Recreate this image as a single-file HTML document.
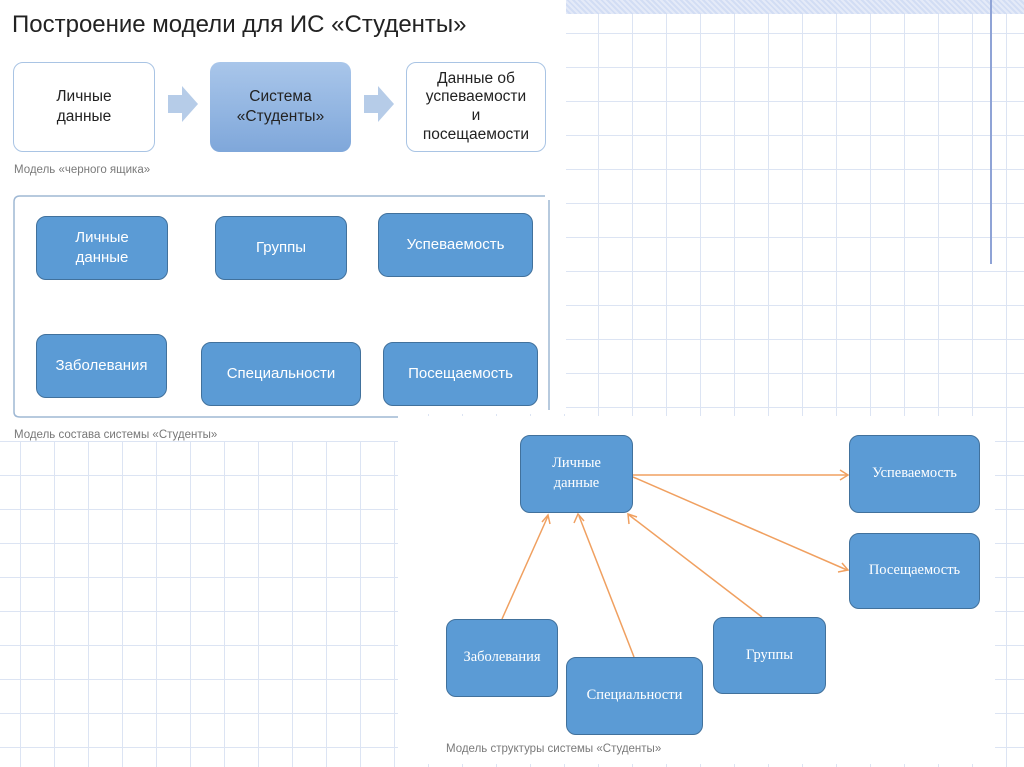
<!DOCTYPE html>
<html><head><meta charset="utf-8"><style>
body{margin:0;width:1024px;height:767px;position:relative;overflow:hidden;background:#fff;font-family:"Liberation Sans","Noto Sans CJK SC",sans-serif;}
.grid{position:absolute;background-color:#fff;background-image:repeating-linear-gradient(to right,transparent 0 33px,#dce4f3 33px 34px),repeating-linear-gradient(to bottom,transparent 0 33px,#dce4f3 33px 34px);}
.p{position:absolute;background:#fff;}
.b{position:absolute;box-sizing:border-box;display:flex;align-items:center;justify-content:center;text-align:center;border-radius:10px;}
.blue{background:#5b9bd5;border:1.5px solid #41719c;color:#fff;font-size:15px;line-height:1.35;}
.ser{font-family:"Liberation Serif",serif;font-size:14.5px;}
.cap{position:absolute;font-size:11.5px;color:#7a7a7a;}
</style></head><body>
<div class="grid" style="left:0;top:0;width:1024px;height:767px;background-position:-13px 0px"></div>
<div class="p" style="left:0;top:0;width:566px;height:414px"></div>
<div class="p" style="left:0;top:414px;width:398px;height:27px"></div>
<div class="p" style="left:398px;top:416px;width:597px;height:348px"></div>
<div style="position:absolute;left:566px;top:0;width:458px;height:14px;background:repeating-linear-gradient(45deg,#e4eaf8 0 2px,#d2ddf4 2px 4px)"></div>
<div style="position:absolute;left:990px;top:0;width:2px;height:264px;background:#8fa3d6"></div>

<div style="position:absolute;left:12px;top:11px;font-size:24px;color:#222">Построение модели для ИС «Студенты»</div>
<div class="b" style="left:13px;top:62px;width:142px;height:90px;border:1.5px solid #a9c4e4;font-size:15.5px;color:#222;line-height:1.3">Личные<br>данные</div>
<div class="b" style="left:210px;top:62px;width:141px;height:90px;background:linear-gradient(#a9c6ea,#7fa7da);font-size:15.5px;color:#222;line-height:1.3">Система<br>«Студенты»</div>
<div class="b" style="left:406px;top:62px;width:140px;height:90px;border:1.5px solid #a9c4e4;font-size:15.5px;color:#222;line-height:1.2">Данные об<br>успеваемости<br>и<br>посещаемости</div>
<svg style="position:absolute;left:0;top:0" width="1024" height="767">
<polygon points="168,95 182,95 182,86 198,104 182,122 182,113 168,113" fill="#b6cce8"/>
<polygon points="364,95 378,95 378,86 394,104 378,122 378,113 364,113" fill="#b6cce8"/>
<path d="M14,202 Q14,196 20,196 L545,196 M549,200 L549,410 M14,202 L14,412 Q14,417 20,417 L398,417" stroke="#9fb8d4" stroke-width="1.5" fill="none"/>
<g stroke="#f0a060" stroke-width="1.5" fill="none">
<line x1="633" y1="475" x2="847" y2="475"/>
<line x1="633" y1="477" x2="847" y2="570"/>
<line x1="502" y1="619" x2="548" y2="516"/>
<line x1="634" y1="657" x2="579" y2="516"/>
<line x1="762" y1="617" x2="629" y2="515"/>
<path d="M840,470 L848,475 L840,480"/>
<path d="M838,572 L848,570 L842,563"/>
<path d="M542,522 L548,515 L550,524"/>
<path d="M574,523 L578,514 L584,521"/>
<path d="M629,524 L628,514 L637,517"/>
</g>
</svg>
<div class="cap" style="left:14px;top:164px">Модель «черного ящика»</div>

<div class="b blue" style="left:36px;top:216px;width:132px;height:64px">Личные<br>данные</div>
<div class="b blue" style="left:215px;top:216px;width:132px;height:64px">Группы</div>
<div class="b blue" style="left:378px;top:213px;width:155px;height:64px">Успеваемость</div>
<div class="b blue" style="left:36px;top:334px;width:131px;height:64px">Заболевания</div>
<div class="b blue" style="left:201px;top:342px;width:160px;height:64px">Специальности</div>
<div class="b blue" style="left:383px;top:342px;width:155px;height:64px">Посещаемость</div>
<div style="position:absolute;left:14px;top:429px;height:12px;overflow:hidden;font-size:11.5px;color:#777">Модель состава системы «Студенты»</div>

<div class="b blue ser" style="left:520px;top:435px;width:113px;height:78px">Личные<br>данные</div>
<div class="b blue ser" style="left:849px;top:435px;width:131px;height:78px">Успеваемость</div>
<div class="b blue ser" style="left:849px;top:533px;width:131px;height:76px">Посещаемость</div>
<div class="b blue ser" style="left:446px;top:619px;width:112px;height:78px">Заболевания</div>
<div class="b blue ser" style="left:566px;top:657px;width:137px;height:78px">Специальности</div>
<div class="b blue ser" style="left:713px;top:617px;width:113px;height:77px">Группы</div>
<div class="cap" style="left:446px;top:743px">Модель структуры системы «Студенты»</div>
</body></html>
